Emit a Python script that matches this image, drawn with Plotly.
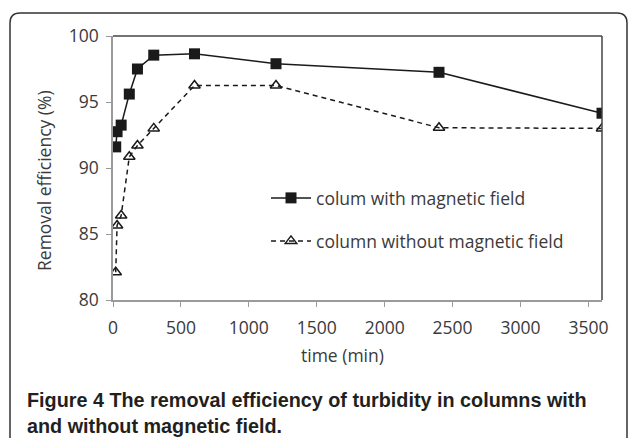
import plotly.graph_objects as go

time_min = [20, 30, 60, 120, 180, 300, 600, 1200, 2400, 3600]
with_field = [91.6, 92.75, 93.25, 95.6, 97.5, 98.55, 98.65, 97.9, 97.25, 94.15]
without_field = [82.1, 85.65, 86.4, 90.85, 91.7, 93.0, 96.25, 96.25, 93.05, 93.0]
x_ticks = [0, 500, 1000, 1500, 2000, 2500, 3000, 3500]
y_ticks = [80, 85, 90, 95, 100]

W, H = 629, 438
PL, PR, PT, PB = 113, 602, 36, 300  # plot area in pixels


def px(x):
    return (x - PL) / (PR - PL)


def py(y):
    return (PB - y) / (PB - PT)


FONT = "Open Sans"
CAP_FONT = "Liberation Sans, Arial, sans-serif"
TXT = "#3a3a3a"

fig = go.Figure()
fig.add_trace(go.Scatter(
    x=time_min, y=with_field, mode="lines+markers",
    name="colum with magnetic field", legend="legend",
    line=dict(color="#1a1a1a", width=1.5),
    marker=dict(symbol="square", size=11, color="#1a1a1a"),
))
fig.add_trace(go.Scatter(
    x=time_min, y=without_field, mode="lines+markers",
    name="column without magnetic field", legend="legend2",
    line=dict(color="#1a1a1a", width=1.5, dash="5px,4px"),
    marker=dict(symbol="triangle-up-open", size=10, color="#1a1a1a",
                line=dict(width=1.5, color="#1a1a1a")),
))

axis_common = dict(showgrid=False, zeroline=False, showline=True,
                   linecolor="#9a9a9a", linewidth=1.5, ticks="outside",
                   tickcolor="#9a9a9a", tickwidth=1, ticklen=5,
                   tickfont=dict(family=FONT, size=17.5, color=TXT))

fig.update_xaxes(range=[0, 3600], tickvals=x_ticks, ticklabelstandoff=6,
                 **axis_common)
fig.update_yaxes(range=[80, 100], tickvals=y_ticks, ticklabelstandoff=4,
                 **axis_common)

# frame
r = 10
L, R, T, B = 10, 627, 13, 460
rx, ry = r / (PR - PL), r / (PB - PT)
path = (f"M {px(L)},{py(B)} L {px(L)},{py(T) - ry} Q {px(L)},{py(T)} {px(L) + rx},{py(T)} "
        f"L {px(R) - rx},{py(T)} Q {px(R)},{py(T)} {px(R)},{py(T) - ry} L {px(R)},{py(B)}")
shapes = [
    dict(type="path", xref="paper", yref="paper", path=path,
         line=dict(color="#333333", width=1.5), layer="above"),
    dict(type="line", xref="paper", yref="paper", x0=0, x1=1, y0=1, y1=1,
         line=dict(color="#444444", width=1.5)),
    dict(type="line", xref="paper", yref="paper", x0=1, x1=1, y0=0, y1=1,
         line=dict(color="#444444", width=1.5)),
]

annotations = [
    dict(text="time (min)", xref="paper", yref="paper", x=px(342), y=py(355),
         xanchor="center", yanchor="middle", showarrow=False,
         font=dict(family=FONT, size=17.5, color=TXT)),
    dict(text="Removal efficiency (%)", xref="paper", yref="paper", x=px(44), y=py(181),
         xanchor="center", yanchor="middle", showarrow=False, textangle=-90,
         font=dict(family=FONT, size=17.5, color=TXT)),
    dict(text="<b>Figure 4</b> The removal efficiency of turbidity in columns with",
         xref="paper", yref="paper", x=px(25), y=py(400),
         xanchor="left", yanchor="middle", showarrow=False,
         font=dict(family=CAP_FONT, size=19.8, color="#231f20", weight="bold")),
    dict(text="and without magnetic field.",
         xref="paper", yref="paper", x=px(25), y=py(426),
         xanchor="left", yanchor="middle", showarrow=False,
         font=dict(family=CAP_FONT, size=19.8, color="#231f20", weight="bold")),
]

leg_common = dict(xanchor="left", yanchor="middle", bgcolor="rgba(0,0,0,0)",
                  font=dict(family=FONT, size=17.5, color=TXT), itemwidth=40)

fig.update_layout(
    width=W, height=H,
    margin=dict(l=PL, r=W - PR, t=PT, b=H - PB, pad=0),
    paper_bgcolor="white", plot_bgcolor="white",
    showlegend=True,
    legend=dict(x=px(266), y=py(198), **leg_common),
    legend2=dict(x=px(266), y=py(241), **leg_common),
    shapes=shapes, annotations=annotations,
)

fig.write_html("out.html", config={"displayModeBar": False},
               post_script="document.body.style.margin='0';document.body.style.overflow='hidden';")
